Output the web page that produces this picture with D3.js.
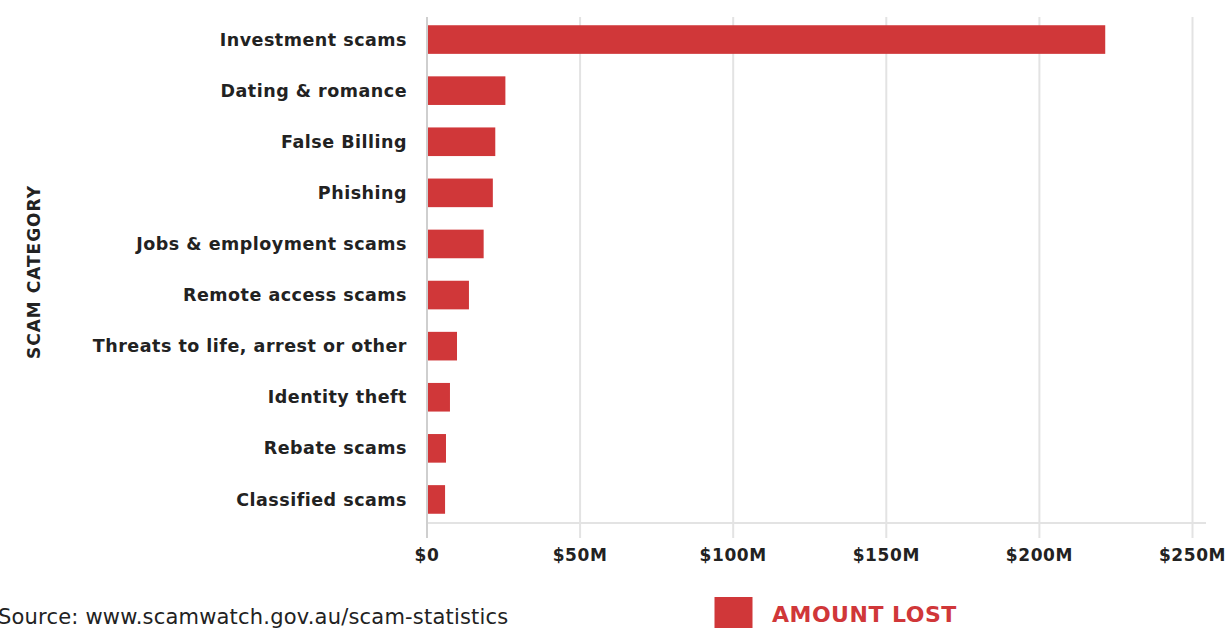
<!DOCTYPE html>
<html>
<head>
<meta charset="utf-8">
<script src="https://cdn.jsdelivr.net/npm/d3@7"></script>
<style>
  body { margin: 0; background: #fff; }
  svg { display: block; }
</style>
</head>
<body>
<div id="chart"></div>
<script>
const width = 1230;
const height = 628;

// Scam categories and amount lost (in $M)
const categories = [
  "Investment scams",
  "Dating & romance",
  "False Billing",
  "Phishing",
  "Jobs & employment scams",
  "Remote access scams",
  "Threats to life, arrest or other",
  "Identity theft",
  "Rebate scams",
  "Classified scams"
];
const amountLost = [221.5, 25.6, 22.3, 21.5, 18.5, 13.7, 9.8, 7.5, 6.2, 5.9];
const tickValues = [0, 50, 100, 150, 200, 250];
const tickLabels = ["$0", "$50M", "$100M", "$150M", "$200M", "$250M"];

const data = categories.map((c, i) => ({ name: c, value: amountLost[i] }));

const red = "#d03739";
const font = "Verdana, DejaVu Sans, sans-serif";

const x = d3.scaleLinear()
    .domain([0, 250])
    .range([427, 1192.5]);

const y = d3.scaleBand()
    .domain(categories)
    .range([14, 525])
    .paddingInner(0.44)
    .paddingOuter(0.22);

const svg = d3.select("#chart")
  .append("svg")
    .attr("width", width)
    .attr("height", height)
    .style("font-family", font);

// vertical gridlines
svg.append("g")
  .selectAll("line")
  .data(tickValues.slice(1))
  .join("line")
    .attr("x1", d => x(d))
    .attr("x2", d => x(d))
    .attr("y1", 17)
    .attr("y2", 538)
    .attr("stroke", "#e3e3e3")
    .attr("stroke-width", 2);

// bottom baseline
svg.append("line")
    .attr("x1", x(0))
    .attr("x2", 1206)
    .attr("y1", 523)
    .attr("y2", 523)
    .attr("stroke", "#e3e3e3")
    .attr("stroke-width", 2);

// bars
svg.append("g")
  .selectAll("rect")
  .data(data)
  .join("rect")
    .attr("x", x(0))
    .attr("y", d => y(d.name))
    .attr("width", d => x(d.value) - x(0))
    .attr("height", y.bandwidth())
    .attr("fill", red);

// y axis line
svg.append("line")
    .attr("x1", x(0))
    .attr("x2", x(0))
    .attr("y1", 17)
    .attr("y2", 538)
    .attr("stroke", "#cfcfcf")
    .attr("stroke-width", 2);

// category labels
svg.append("g")
    .attr("text-anchor", "end")
    .style("font-weight", "bold")
    .style("font-size", "17.5px")
    .style("letter-spacing", "0.5px")
    .attr("fill", "#222")
  .selectAll("text")
  .data(data)
  .join("text")
    .attr("x", 407)
    .attr("y", d => y(d.name) + y.bandwidth() / 2)
    .attr("dy", "0.35em")
    .text(d => d.name);

// x tick labels
svg.append("g")
    .attr("text-anchor", "middle")
    .style("font-weight", "bold")
    .style("font-size", "17px")
    .style("letter-spacing", "0.6px")
    .attr("fill", "#222")
  .selectAll("text")
  .data(tickValues)
  .join("text")
    .attr("x", d => x(d))
    .attr("y", 561)
    .text((d, i) => tickLabels[i]);

// y axis title
svg.append("text")
    .attr("transform", "translate(40,272) rotate(-90)")
    .attr("text-anchor", "middle")
    .style("font-weight", "bold")
    .style("font-size", "17px")
    .style("letter-spacing", "1px")
    .attr("fill", "#222")
    .text("SCAM CATEGORY");

// source note
svg.append("text")
    .attr("x", -2)
    .attr("y", 624)
    .style("font-size", "21px")
    .style("letter-spacing", "0.2px")
    .attr("fill", "#222")
    .text("Source: www.scamwatch.gov.au/scam-statistics");

// legend
svg.append("rect")
    .attr("x", 714.5)
    .attr("y", 597)
    .attr("width", 38)
    .attr("height", 40)
    .attr("fill", red);

svg.append("text")
    .attr("x", 772)
    .attr("y", 622)
    .style("font-weight", "bold")
    .style("font-size", "22px")
    .style("letter-spacing", "0.5px")
    .attr("fill", red)
    .text("AMOUNT LOST");
</script>
</body>
</html>
